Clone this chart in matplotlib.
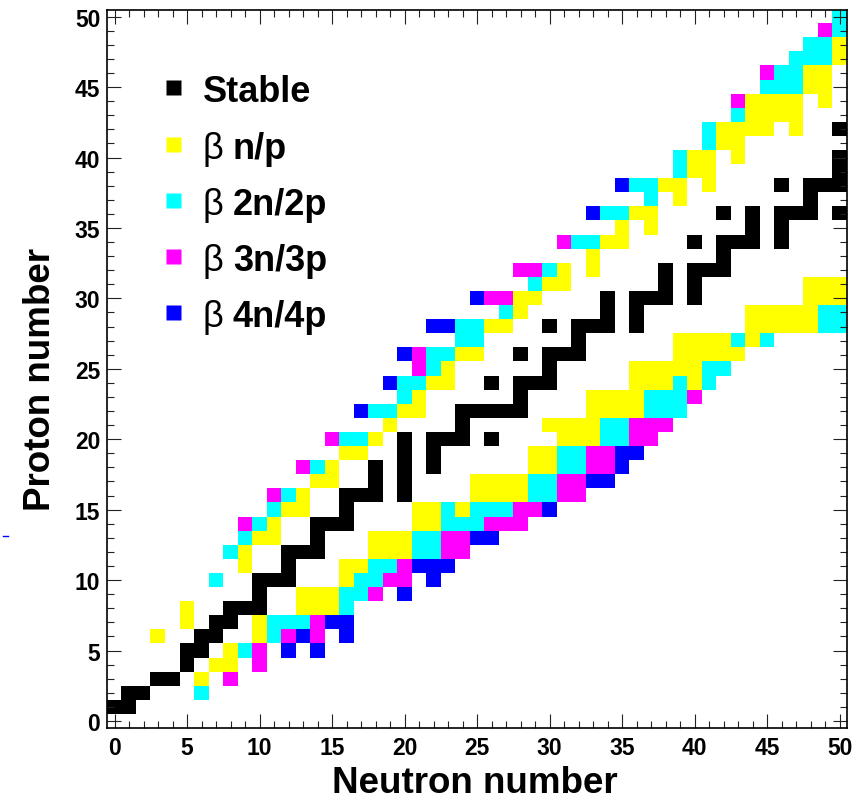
import numpy as np
import matplotlib
matplotlib.use("Agg")
import matplotlib.pyplot as plt
import matplotlib.font_manager as fm
from matplotlib.colors import ListedColormap, BoundaryNorm
from matplotlib.ticker import MultipleLocator
from matplotlib.lines import Line2D

# proton number Z -> neutron numbers N, one dict per category
stable = {1: [0, 1], 2: [1, 2], 3: [3, 4], 4: [5], 5: [5, 6], 6: [6, 7], 7: [7, 8],
          8: [8, 9, 10], 9: [10], 10: [10, 11, 12], 11: [12], 12: [12, 13, 14], 13: [14],
          14: [14, 15, 16], 15: [16], 16: [16, 17, 18, 20], 17: [18, 20], 18: [18, 20, 22],
          19: [20, 22], 20: [20, 22, 23, 24, 26], 21: [24], 22: [24, 25, 26, 27, 28],
          23: [28], 24: [26, 28, 29, 30], 25: [30], 26: [28, 30, 31, 32], 27: [32],
          28: [30, 32, 33, 34, 36], 29: [34, 36], 30: [34, 36, 37, 38, 40], 31: [38, 40],
          32: [38, 40, 41, 42], 33: [42], 34: [40, 42, 43, 44, 46], 35: [44, 46],
          36: [42, 44, 46, 47, 48, 50], 37: [48], 38: [46, 48, 49, 50], 39: [50], 40: [50],
          42: [50]}

beta_1 = {3: [6], 4: [7, 8], 5: [8], 6: [3, 10], 7: [5, 10], 8: [5, 13, 14, 15],
          9: [13, 14, 15], 10: [16], 11: [9, 16, 17], 12: [9, 18, 19, 20],
          13: [10, 11, 18, 19, 20], 14: [11, 21, 22], 15: [12, 13, 21, 22, 24],
          16: [13, 25, 26, 27, 28], 17: [14, 15, 25, 26, 27, 28], 18: [15, 29, 30],
          19: [16, 17, 29, 30], 20: [18, 31, 32, 33], 21: [19, 30, 31, 32, 33],
          22: [20, 21, 33, 34, 35, 36], 23: [21, 33, 34, 35, 36], 24: [22, 23, 36, 37, 38, 40],
          25: [23, 36, 37, 38, 39, 40], 26: [24, 25, 39, 40, 41, 42, 43],
          27: [39, 40, 41, 42, 44], 28: [26, 27, 44, 45, 46, 47, 48], 29: [28, 44, 45, 46, 47, 48],
          30: [28, 29, 48, 49, 50], 31: [30, 31, 48, 49, 50], 32: [31, 33], 33: [33],
          34: [34, 35], 35: [35, 37], 36: [36, 37], 37: [39], 38: [38, 39, 41], 39: [40, 41],
          40: [40, 41, 43], 41: [42, 43], 42: [42, 43, 44, 45, 47], 43: [44, 45, 46, 47],
          44: [44, 45, 46, 47, 49], 45: [48, 49], 46: [48, 49], 47: [50], 48: [50]}

beta_2 = {2: [6], 5: [9], 6: [11], 7: [11, 12, 13], 8: [16], 9: [16, 17], 10: [7, 17, 18],
          11: [18, 19], 12: [8, 21, 22], 13: [9, 21, 22], 14: [10, 23, 24, 25],
          15: [11, 23, 25, 26, 27], 16: [12, 29, 30], 17: [29, 30], 18: [14, 31, 32],
          19: [31, 32], 20: [16, 17, 34, 35], 21: [34, 35], 22: [18, 19, 37, 38, 39],
          23: [20, 37, 38, 39], 24: [20, 21, 39, 41], 25: [22, 41, 42], 26: [22, 23],
          27: [24, 25, 43, 45], 28: [24, 25, 49, 50], 29: [27, 49, 50], 31: [29], 32: [30],
          34: [32, 33], 36: [34, 35], 37: [37], 38: [36, 37], 39: [39], 40: [39], 41: [41],
          42: [41], 43: [43], 45: [45, 46, 47], 46: [46, 47], 47: [47, 48, 49], 48: [48, 49],
          49: [50], 50: [50]}

beta_3 = {3: [8], 4: [10], 5: [10], 6: [12, 14], 7: [14], 9: [18], 10: [19, 20], 11: [20],
          12: [23, 24], 13: [23, 24], 14: [9, 26, 27, 28], 15: [28, 29], 16: [11, 31, 32],
          17: [31, 32], 18: [13, 33, 34], 19: [33, 34], 20: [15, 36, 37], 21: [36, 37, 38],
          23: [40], 25: [21], 26: [21], 30: [26, 27], 32: [28, 29], 34: [31], 44: [43],
          46: [45], 49: [49]}

beta_4 = {5: [12, 14], 6: [13, 16], 7: [15, 16], 9: [20], 10: [22], 11: [21, 22, 23],
          13: [25, 26], 15: [30], 17: [33, 34], 18: [35], 19: [35, 36], 22: [17], 24: [19],
          26: [20], 28: [22, 23], 30: [25], 36: [33], 38: [35]}

categories = [stable, beta_1, beta_2, beta_3, beta_4]
colors = ["black", "#ffff00", "#00ffff", "#ff00ff", "#0000ff"]
labels = ["Stable", "n/p", "2n/2p", "3n/3p", "4n/4p"]

grid = np.zeros((51, 51))
for code, cat in enumerate(categories, start=1):
    for z, ns in cat.items():
        for n in ns:
            grid[z, n] = code
grid = np.ma.masked_equal(grid, 0)

names = {f.name for f in fm.fontManager.ttflist}
tick_family = "Liberation Sans Narrow" if "Liberation Sans Narrow" in names else "Liberation Sans"
font = "Liberation Sans"

fig = plt.figure(figsize=(8.63, 8.03), dpi=100)
ax = fig.add_axes([0.1243, 0.0922, 0.8571, 0.8945])

cmap = ListedColormap(colors)
norm = BoundaryNorm(np.arange(0.5, 6.5, 1), cmap.N)
ax.imshow(grid, cmap=cmap, norm=norm, origin="lower", interpolation="nearest",
          extent=(-0.5, 50.5, -0.5, 50.5), aspect="auto")

ax.set_xlim(-0.5, 50.5)
ax.set_ylim(-0.5, 50.5)
ax.xaxis.set_major_locator(MultipleLocator(5))
ax.yaxis.set_major_locator(MultipleLocator(5))
ax.xaxis.set_minor_locator(MultipleLocator(1))
ax.yaxis.set_minor_locator(MultipleLocator(1))
ax.tick_params(which="both", direction="in", top=True, right=True, width=0.8, color="#222222")
ax.tick_params(which="major", length=10)
ax.tick_params(which="minor", length=5)
ax.tick_params(axis="x", pad=6)
ax.tick_params(axis="y", pad=5)
for lab in ax.get_xticklabels() + ax.get_yticklabels():
    lab.set_fontfamily(tick_family)
    lab.set_fontweight("bold")
    lab.set_fontsize(16.5)
for sp in ax.spines.values():
    sp.set_linewidth(1.2)

fig.text(475 / 863, 0.002, "Neutron number", fontsize=26.5, fontweight="bold",
         family=font, ha="center", va="bottom")
fig.text(50 / 863, 1 - 380 / 803, "Proton number", fontsize=26.5, fontweight="bold",
         family=font, ha="center", va="baseline", rotation=90, rotation_mode="anchor")

# legend drawn by hand (beta sign in regular weight)
top, h = 10.7, 718.3
for i, (c, lab) in enumerate(zip(colors, labels)):
    ym = 88.3 + 56.3 * i
    yf = 1 - (ym - top) / h
    ax.plot([(173 - 107.3) / 739.7], [yf], "s", ms=10.8, color=c, mec="none",
            transform=ax.transAxes, clip_on=False)
    yb = 1 - (ym + 14 - top) / h
    if i == 0:
        ax.text((203 - 107.3) / 739.7, yb, lab, transform=ax.transAxes, fontsize=26,
                fontweight="bold", family=font, va="baseline")
    else:
        ax.text((203 - 107.3) / 739.7, yb, "\u03b2", transform=ax.transAxes, fontsize=26,
                family=font, va="baseline")
        ax.text((233 - 107.3) / 739.7, yb, lab, transform=ax.transAxes, fontsize=26,
                fontweight="bold", family=font, va="baseline")

fig.add_artist(Line2D([3 / 863, 8 / 863], [1 - 537 / 803] * 2, color="blue", lw=1))

fig.savefig("out.png", dpi=100)
